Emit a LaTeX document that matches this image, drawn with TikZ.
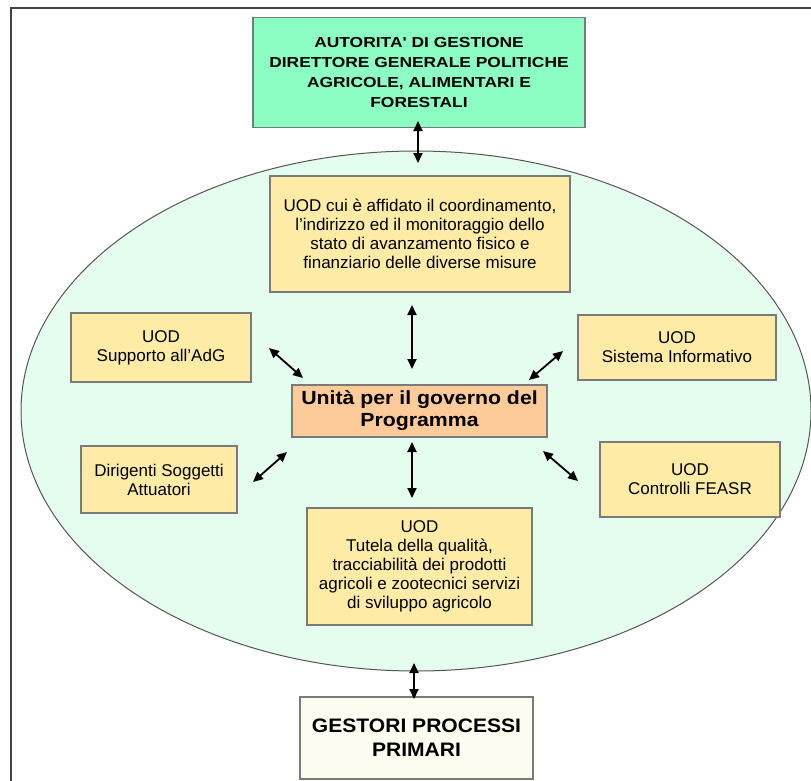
\documentclass[tikz,border=0pt]{standalone}
\usepackage{fontspec}
\setmainfont{Liberation Sans}
\newfontfamily\wideA[FakeStretch=1.2]{Liberation Sans}
\newfontfamily\wideB[FakeStretch=1.12]{Liberation Sans}
\newfontfamily\wideC[FakeStretch=1.08]{Liberation Sans}
\usetikzlibrary{arrows.meta,shapes.geometric}
\definecolor{frameC}{HTML}{444444}
\definecolor{ellFill}{HTML}{E4FDEF}
\definecolor{ellLine}{HTML}{555555}
\definecolor{boxLine}{HTML}{7A7A7A}
\definecolor{greenFill}{HTML}{8CFDC3}
\definecolor{yellowFill}{HTML}{FDEBA6}
\definecolor{peachFill}{HTML}{FCCB99}
\definecolor{creamFill}{HTML}{FCFDF0}
\tikzset{
  box/.style={draw=boxLine, line width=1.6pt, align=center, inner sep=2pt},
  ybox/.style={box, fill=yellowFill, font=\fontsize{17}{19}\selectfont},
  arr/.style={line width=1.8pt, {Triangle[length=10pt,width=9pt]}-{Triangle[length=10pt,width=9pt]}}
}
\begin{document}
\begin{tikzpicture}[x=1pt,y=-1pt]
\useasboundingbox (0,0) rectangle (811,780);
\clip (0,0) rectangle (811,780);
\fill[white] (0,0) rectangle (811,780);
\draw[frameC, line width=1.3pt] (11,8) rectangle (850,820);
\node[ellipse, draw=ellLine, fill=ellFill, line width=1pt, minimum width=790pt, minimum height=520pt, inner sep=0pt] (ell) at (416,411) {};

\node[box, fill=greenFill, minimum width=332pt, minimum height=110pt, font=\wideA\bfseries\fontsize{14.5}{20}\selectfont] (top) at (419,72.5)
 {AUTORITA' DI GESTIONE\\DIRETTORE GENERALE POLITICHE\\AGRICOLE, ALIMENTARI E\\FORESTALI};

\node[ybox, minimum width=300pt, minimum height=116pt] (coord) at (420,234)
 {UOD cui è affidato il coordinamento,\\l'indirizzo ed il monitoraggio dello\\stato di avanzamento fisico e\\finanziario delle diverse misure};

\node[ybox, minimum width=180pt, minimum height=69pt] (supp) at (161,347.5) {UOD\\Supporto all'AdG};
\node[ybox, minimum width=198pt, minimum height=65pt] (sist) at (677,347.5) {UOD\\Sistema Informativo};

\node[box, fill=peachFill, minimum width=255pt, minimum height=52pt, font=\wideB\bfseries\fontsize{19}{22}\selectfont] (unita) at (419.5,411)
 {Unità per il governo del\\Programma};

\node[ybox, minimum width=156pt, minimum height=67pt] (dirig) at (159,479.5) {Dirigenti Soggetti\\Attuatori};
\node[ybox, minimum width=180pt, minimum height=75pt] (contr) at (690,479.5) {UOD\\Controlli FEASR};

\node[ybox, minimum width=225pt, minimum height=117pt] (tutela) at (419.5,566.5)
 {UOD\\Tutela della qualità,\\tracciabilità dei prodotti\\agricoli e zootecnici servizi\\di sviluppo agricolo};

\node[box, fill=creamFill, minimum width=233pt, minimum height=82pt, font=\wideC\bfseries\fontsize{19.5}{24}\selectfont] (gest) at (416.5,738)
 {GESTORI PROCESSI\\PRIMARI};

% arrow end points
\coordinate (c1) at (412,305); \coordinate (c2) at (412,369);
\coordinate (s1) at (269,348); \coordinate (s2) at (303,378);
\coordinate (i1) at (563,351); \coordinate (i2) at (529,380);
\coordinate (d1) at (287,452); \coordinate (d2) at (253,482);
\coordinate (f1) at (543,451); \coordinate (f2) at (578,481);
\coordinate (u1) at (412,442); \coordinate (u2) at (412,498);
\coordinate (t1) at (418,121); \coordinate (t2) at (418,163);
\coordinate (b1) at (414,663); \coordinate (b2) at (414,699);

\draw[arr] (t1) -- (t2);
\draw[arr] (c1) -- (c2);
\draw[arr] (s1) -- (s2);
\draw[arr] (i1) -- (i2);
\draw[arr] (d1) -- (d2);
\draw[arr] (f1) -- (f2);
\draw[arr] (u1) -- (u2);
\draw[arr] (b1) -- (b2);
\end{tikzpicture}
\end{document}
